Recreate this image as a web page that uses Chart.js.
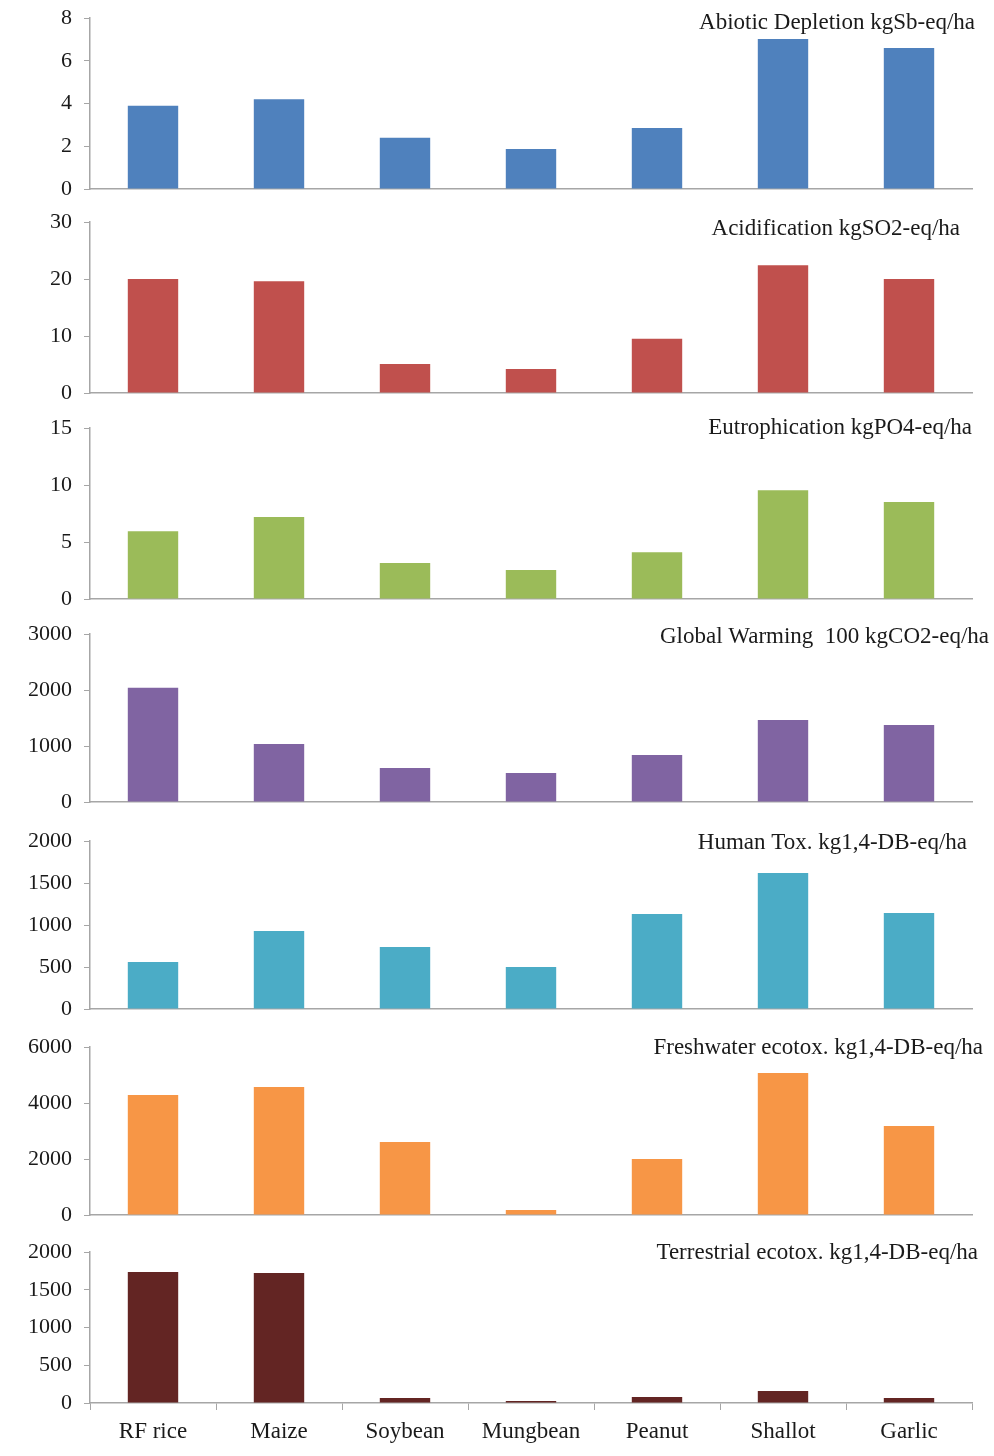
<!DOCTYPE html>
<html>
<head>
<meta charset="utf-8">
<script src="https://cdn.jsdelivr.net/npm/chart.js@4/dist/chart.umd.min.js"></script>
<style>
  html, body { margin: 0; padding: 0; background: #fff; }
  #wrap { position: relative; width: 994px; height: 1456px; }
  .panel { position: absolute; left: 0; width: 994px; }
</style>
</head>
<body>
<div id="wrap"></div>
<script>
const crops = ["RF rice", "Maize", "Soybean", "Mungbean", "Peanut", "Shallot", "Garlic"]

const abiotic = [3.9, 4.2, 2.4, 1.87, 2.85, 7.02, 6.6]
const acidification = [20.0, 19.6, 5.1, 4.2, 9.5, 22.4, 20.0]
const eutrophication = [5.95, 7.2, 3.15, 2.55, 4.1, 9.55, 8.5]
const warming = [2040, 1035, 607, 518, 840, 1465, 1375]
const humanTox = [560, 929, 738, 500, 1131, 1619, 1143]
const freshwater = [4286, 4571, 2607, 179, 2000, 5071, 3179]
const terrestrial = [1735, 1722, 66, 26, 80, 159, 66]

const titles = [
  "Abiotic Depletion kgSb-eq/ha",
  "Acidification kgSO2-eq/ha",
  "Eutrophication kgPO4-eq/ha",
  "Global Warming  100 kgCO2-eq/ha",
  "Human Tox. kg1,4-DB-eq/ha",
  "Freshwater ecotox. kg1,4-DB-eq/ha",
  "Terrestrial ecotox. kg1,4-DB-eq/ha"
]
const maxes = [8, 30, 15, 3000, 2000, 6000, 2000]
const steps = [2, 10, 5, 1000, 500, 2000, 500]
const colors = ["#4f81bd", "#c0504d", "#9bbb59", "#8064a2", "#4bacc6", "#f79646", "#632523"]

// pixel rows of each panel: [top of axis, zero line]; title anchor (right edge, middle)
const rows = [[18, 189], [222, 393], [428, 599], [634, 802], [841, 1009], [1047, 1215], [1252, 1403]]
const titleRight = [975, 960, 972, 989, 967, 983, 978]
const titleY = [23, 229, 428, 637, 843, 1048, 1253]

const series = [abiotic, acidification, eutrophication, warming, humanTox, freshwater, terrestrial]
const font = "'Liberation Serif', 'Times New Roman', serif"
const axisColor = "#a6a6a6"
const PAD = 28

const panelTitle = {
  id: "panelTitle",
  afterDraw(chart) {
    const o = chart.options.plugins.panelTitle
    const ctx = chart.ctx
    ctx.save()
    ctx.font = "23px " + font
    ctx.fillStyle = "#1a1a1a"
    ctx.textAlign = "right"
    ctx.textBaseline = "middle"
    ctx.fillText(o.text, o.right, o.y)
    ctx.restore()
  }
}

const wrap = document.getElementById("wrap")

series.forEach((data, i) => {
  const last = i === series.length - 1
  const [top, zero] = rows[i]
  const canvasTop = top - PAD
  const h = last ? 1456 - canvasTop : zero - top + PAD * 2
  const div = document.createElement("div")
  div.className = "panel"
  div.style.top = canvasTop + "px"
  div.style.height = h + "px"
  const canvas = document.createElement("canvas")
  div.appendChild(canvas)
  wrap.appendChild(div)

  new Chart(canvas, {
    type: "bar",
    data: {
      labels: crops,
      datasets: [{
        data,
        backgroundColor: colors[i],
        borderWidth: 0,
        barPercentage: 0.4,
        categoryPercentage: 1.0
      }]
    },
    plugins: [panelTitle],
    options: {
      responsive: true,
      maintainAspectRatio: false,
      animation: false,
      layout: { padding: { top: PAD, right: 22, left: 0, bottom: 0 } },
      plugins: {
        legend: { display: false },
        tooltip: { enabled: false },
        panelTitle: { text: titles[i], right: titleRight[i], y: titleY[i] - canvasTop }
      },
      scales: {
        x: {
          grid: {
            display: last,
            drawOnChartArea: false,
            offset: true,
            tickLength: 7,
            color: axisColor
          },
          border: { display: true, color: axisColor, width: 1.5 },
          ticks: {
            display: last,
            color: "#1a1a1a",
            font: { family: font, size: 23 },
            padding: 8,
            maxRotation: 0
          },
          afterFit: a => { a.height = last ? 1456 - zero : PAD }
        },
        y: {
          min: 0,
          max: maxes[i],
          grid: {
            display: true,
            drawOnChartArea: false,
            tickLength: 6,
            color: axisColor
          },
          border: { display: true, color: axisColor, width: 1.5 },
          ticks: {
            stepSize: steps[i],
            color: "#1a1a1a",
            font: { family: font, size: 22 },
            padding: 12,
            callback: v => String(v)
          },
          afterFit: a => { a.width = 90 }
        }
      }
    }
  })
})
</script>
</body>
</html>
